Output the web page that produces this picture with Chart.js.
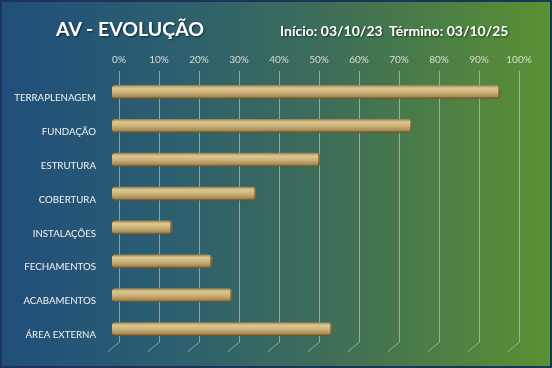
<!DOCTYPE html>
<html>
<head>
<meta charset="utf-8">
<script src="https://cdn.jsdelivr.net/npm/chart.js@4/dist/chart.umd.min.js"></script>
<style>
  html, body { margin: 0; padding: 0; }
  #wrap {
    position: relative; width: 552px; height: 368px; overflow: hidden;
    background: linear-gradient(to right, #1f4e7b 0%, #2c5e70 30%, #3e6e58 60%, #5a9132 100%);
    box-shadow: inset 0 0 0 2px #1a3558;
    font-family: Lato, "Open Sans", sans-serif;
  }
  #chart { position: absolute; left: 0; top: 0; }
  .ttl { position: absolute; color: #fff; font-weight: bold; white-space: nowrap;
         text-shadow: 1px 1px 2px rgba(0,0,0,0.55); }
  #title { left: 56px; top: 17px; font-size: 19.5px; }
  #dates { left: 280px; top: 22px; font-size: 14px; }
</style>
</head>
<body>
<div id="wrap">
  <canvas id="chart" width="552" height="368"></canvas>
  <div id="title" class="ttl">AV - EVOLUÇÃO</div>
  <div id="dates" class="ttl">Início: 03/10/23&nbsp; Término: 03/10/25</div>
</div>
<script>
const stages = ["TERRAPLENAGEM", "FUNDAÇÃO", "ESTRUTURA", "COBERTURA", "INSTALAÇÕES", "FECHAMENTOS", "ACABAMENTOS", "ÁREA EXTERNA"];
const progress = [97, 75, 52, 36, 15, 25, 30, 55];
const pctTicks = [0, 10, 20, 30, 40, 50, 60, 70, 80, 90, 100];

// 3d look: back wall is shifted up/right from the floor
const DEPTH_X = 12, DEPTH_Y = 10;
const BAR_DX = -7, BAR_DY = -6;

function barFill(context) {
  const chart = context.chart;
  const y = chart.scales.y;
  const cy = y ? y.getPixelForValue(context.dataIndex) : NaN;
  if (!Number.isFinite(cy)) return "#c9b07a";
  const g = chart.ctx.createLinearGradient(0, cy - 6.5, 0, cy + 6.5);
  g.addColorStop(0, "#9c8556");
  g.addColorStop(0.2, "#ddc893");
  g.addColorStop(0.5, "#cdb47c");
  g.addColorStop(0.85, "#a88c56");
  g.addColorStop(1, "#6a5428");
  return g;
}

const wallGrid = {
  id: "wallGrid",
  beforeDatasetsDraw(chart) {
    const { ctx, chartArea, scales } = chart;
    ctx.save();
    ctx.strokeStyle = "rgba(205,210,205,0.6)";
    ctx.lineWidth = 1;
    pctTicks.forEach(v => {
      const x = Math.round(scales.x.getPixelForValue(v)) + 0.5;
      ctx.beginPath();
      ctx.moveTo(x, chartArea.top - DEPTH_Y);
      ctx.lineTo(x, chartArea.bottom - DEPTH_Y);
      ctx.lineTo(x - DEPTH_X, chartArea.bottom);
      ctx.stroke();
    });
    ctx.restore();
    ctx.save();
    ctx.translate(BAR_DX, BAR_DY);
  },
  afterDatasetsDraw(chart) {
    const ctx = chart.ctx;
    // darker end cap of each cylinder
    chart.getDatasetMeta(0).data.forEach(bar => {
      if (!Number.isFinite(bar.x) || !Number.isFinite(bar.y)) return;
      const g = ctx.createLinearGradient(bar.x - 5, 0, bar.x, 0);
      g.addColorStop(0, "rgba(100,78,36,0)");
      g.addColorStop(1, "rgba(100,78,36,0.8)");
      ctx.fillStyle = g;
      ctx.beginPath();
      ctx.ellipse(bar.x - 2, bar.y, 3, 6.5, 0, -Math.PI / 2, Math.PI / 2);
      ctx.fill();
    });
    ctx.restore();
  }
};

new Chart(document.getElementById("chart"), {
  type: "bar",
  data: {
    labels: stages,
    datasets: [{
      data: progress,
      backgroundColor: barFill,
      barThickness: 13,
      borderRadius: 4,
      borderSkipped: false,
      borderWidth: 0
    }]
  },
  options: {
    indexAxis: "y",
    responsive: false,
    animation: false,
    layout: { padding: { left: 0, right: 33, top: 0, bottom: 16 } },
    plugins: { legend: { display: false }, tooltip: { enabled: false } },
    scales: {
      x: {
        position: "top",
        min: 0, max: 100,
        afterBuildTicks: s => { s.ticks = pctTicks.map(v => ({ value: v })); },
        afterFit: s => { s.height = 81; },
        grid: { display: false },
        border: { display: false },
        ticks: {
          color: "#d8dcd8",
          padding: 7,
          font: { family: "Lato", size: 10 },
          callback: v => v + "%"
        }
      },
      y: {
        afterFit: s => { s.width = 119; s.paddingTop = 0; s.paddingBottom = 0; },
        grid: { display: false },
        border: { display: false },
        ticks: {
          color: "#f2f4f2",
          padding: 15,
          font: { family: "Lato", size: 9.7 }
        }
      }
    }
  },
  plugins: [wallGrid]
});
</script>
</body>
</html>
